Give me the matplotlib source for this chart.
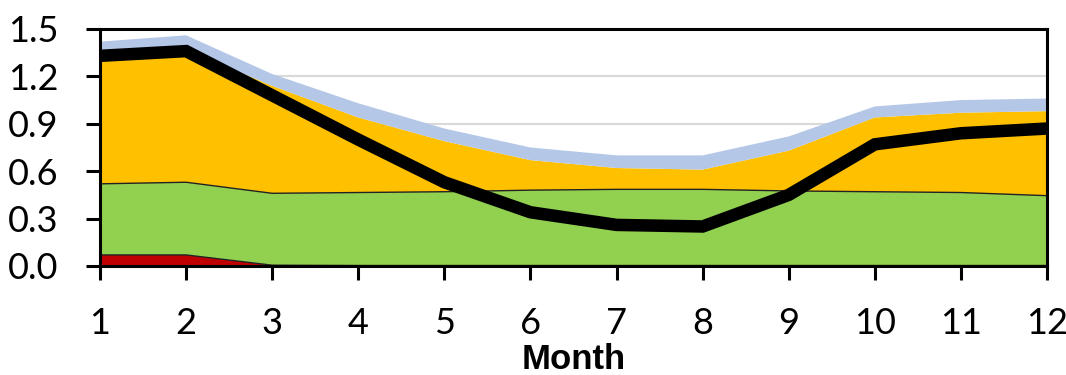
import matplotlib
matplotlib.use('Agg')
from matplotlib import pyplot as plt

months = list(range(1, 13))
# stacked layers (thickness of each band)
red = [0.07, 0.07, 0.005, 0.003, 0.003, 0.003, 0.003, 0.003, 0.003, 0.003, 0.003, 0.003]
green = [0.45, 0.46, 0.455, 0.462, 0.467, 0.477, 0.482, 0.482, 0.472, 0.467, 0.462, 0.442]
orange = [0.82, 0.84, 0.68, 0.475, 0.32, 0.19, 0.135, 0.125, 0.255, 0.47, 0.505, 0.535]
blue = [0.08, 0.09, 0.075, 0.09, 0.08, 0.08, 0.08, 0.09, 0.09, 0.07, 0.08, 0.08]
total = [1.33, 1.36, 1.08, 0.80, 0.53, 0.34, 0.26, 0.25, 0.45, 0.77, 0.84, 0.87]

fig = plt.figure(figsize=(10.66, 3.75), dpi=100)
ax = fig.add_axes([0.0938, 0.2907, 0.8884, 0.632])

ax.stackplot(months, red, green, orange, blue,
             colors=['#c00000', '#92d050', '#ffc000', '#b4c7e7'], zorder=2)
# thin dark edges on red and green tops
g_top = [a + b for a, b in zip(red, green)]
ax.plot(months, red, color='#222222', lw=1.0, zorder=3)
ax.plot(months, g_top, color='#222222', lw=1.0, zorder=3)

ax.plot(months, total, color='black', lw=9, solid_joinstyle='miter', zorder=4)

ax.set_xlim(1, 12)
ax.set_ylim(0, 1.5)
ax.set_xticks(months)
ax.set_yticks([0.0, 0.3, 0.6, 0.9, 1.2, 1.5])
ax.set_yticklabels(['0.0', '0.3', '0.6', '0.9', '1.2', '1.5'])
ax.grid(axis='y', color='#d9d9d9', lw=1.5, zorder=1)
ax.set_axisbelow(True)

for s in ax.spines.values():
    s.set_linewidth(2.2)
    s.set_color('black')
    s.set_zorder(5)

ax.tick_params(axis='both', direction='out', length=10, width=2.2, labelsize=26)
ax.tick_params(axis='x', pad=19.5)
ax.tick_params(axis='y', pad=20)
for lbl in ax.get_xticklabels() + ax.get_yticklabels():
    lbl.set_fontfamily('Lato')

ax.set_xlabel('Month', fontsize=25, fontweight='bold', family='Liberation Sans', labelpad=2)

fig.savefig('out.png', dpi=100)
